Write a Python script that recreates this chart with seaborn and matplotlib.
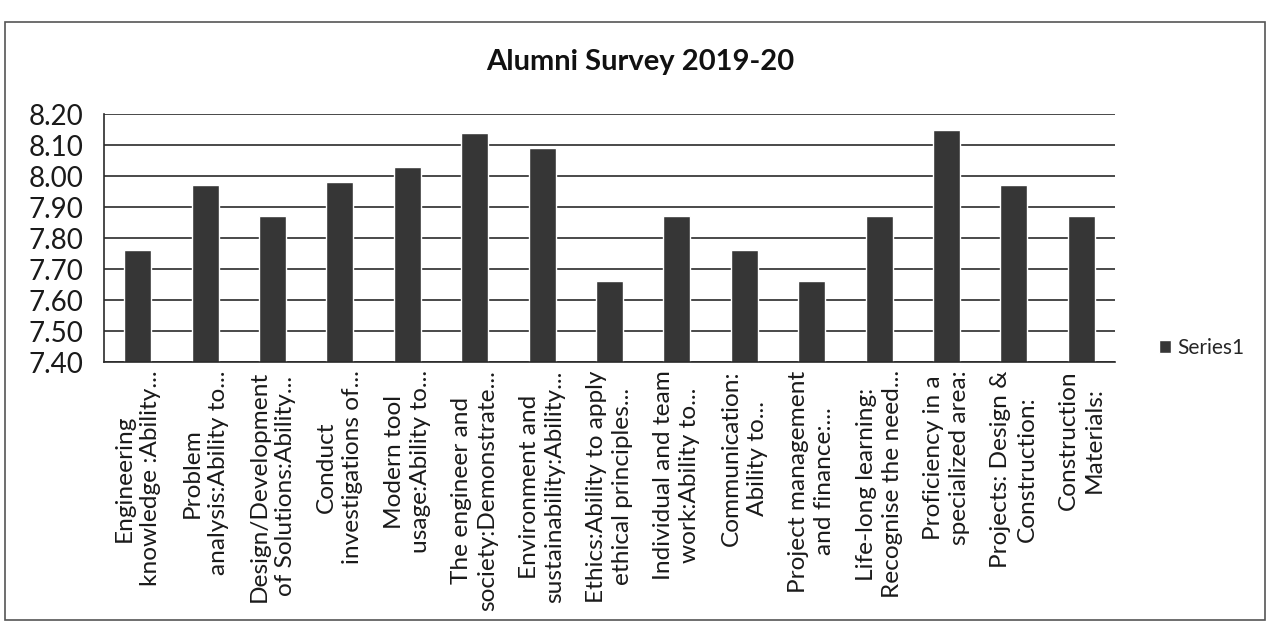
import matplotlib
matplotlib.use("Agg")
import matplotlib.pyplot as plt
import seaborn as sns
import pandas as pd
import numpy as np
from matplotlib.patches import Rectangle
from matplotlib.ticker import FixedLocator, FormatStrFormatter

categories = [
    "Engineering\nknowledge :Ability...",
    "Problem\nanalysis:Ability to...",
    "Design/Development\nof Solutions:Ability...",
    "Conduct\ninvestigations of...",
    "Modern tool\nusage:Ability to...",
    "The engineer and\nsociety:Demonstrate...",
    "Environment and\nsustainability:Ability...",
    "Ethics:Ability to apply\nethical principles...",
    "Individual and team\nwork:Ability to...",
    "Communication:\nAbility to...",
    "Project management\nand finance:...",
    "Life-long learning:\nRecognise the need...",
    "Proficiency in a\nspecialized area:",
    "Projects: Design &\nConstruction:",
    "Construction\nMaterials:",
]
values = [7.76, 7.97, 7.87, 7.98, 8.03, 8.14, 8.09, 7.66, 7.87, 7.76, 7.66, 7.87, 8.15, 7.97, 7.87]
series_name = "Series1"
title = "Alumni Survey 2019-20"
y_ticks = [7.40, 7.50, 7.60, 7.70, 7.80, 7.90, 8.00, 8.10, 8.20]

df = pd.DataFrame({"category": categories, "value": values, "series": series_name})

sns.set_theme(style="white")
plt.rcParams["font.family"] = ["Lato", "DejaVu Sans"]

bar_color = "#363636"

fig = plt.figure(figsize=(12.72, 6.37), dpi=100)
fig.patch.set_facecolor("white")
ax = fig.add_axes([104 / 1272, 1 - 362 / 637, (1115 - 104) / 1272, (362 - 114) / 637])

sns.barplot(data=df, x="category", y="value", hue="series", palette=[bar_color],
            width=0.4, ax=ax, legend=False, saturation=1)

ax.set_ylim(7.40, 8.20)
ax.yaxis.set_major_locator(FixedLocator(y_ticks))
ax.yaxis.set_major_formatter(FormatStrFormatter("%.2f"))
ax.set_xlim(-0.5, len(categories) - 0.5)
ax.grid(axis="y", color="#2a2a2a", linewidth=1.2)
ax.set_axisbelow(True)
for s in ["top", "right"]:
    ax.spines[s].set_visible(False)
for s in ["left", "bottom"]:
    ax.spines[s].set_color("#2a2a2a")
    ax.spines[s].set_linewidth(1.2)
ax.set_xlabel("")
ax.set_ylabel("")

ax.tick_params(axis="y", labelsize=20, length=0, pad=15, labelcolor="#1a1a1a")
ax.tick_params(axis="x", which="major", length=0, pad=6)
ax.set_xticks(range(len(categories)))
ax.set_xticklabels(categories, rotation=90, ha="center", va="top",
                   multialignment="center", fontsize=17.6, color="#1a1a1a",
                   linespacing=1.3)
ax.xaxis.set_minor_locator(FixedLocator(np.arange(0.5, len(categories) - 0.5, 1.0)))
ax.tick_params(axis="x", which="minor", length=6, width=1.2, color="#2a2a2a", direction="out")

fig.text(640 / 1272, 1 - 62 / 637, title, ha="center", va="center",
         fontsize=21, fontweight="bold", color="#111111")

handle = Rectangle((0, 0), 1, 1, facecolor=bar_color)
fig.legend([handle], [series_name], loc="center left",
           bbox_to_anchor=(1140 / 1272, 1 - 348 / 637), frameon=False,
           fontsize=15, handlelength=0.6, handleheight=0.6, handletextpad=0.3)

fig.patches.append(Rectangle((5 / 1272, 1 - 620 / 637), 1260 / 1272, (620 - 22) / 637,
                             transform=fig.transFigure, fill=False,
                             edgecolor="#555555", linewidth=1.2))

fig.savefig("out.png", dpi=100, facecolor="white")
